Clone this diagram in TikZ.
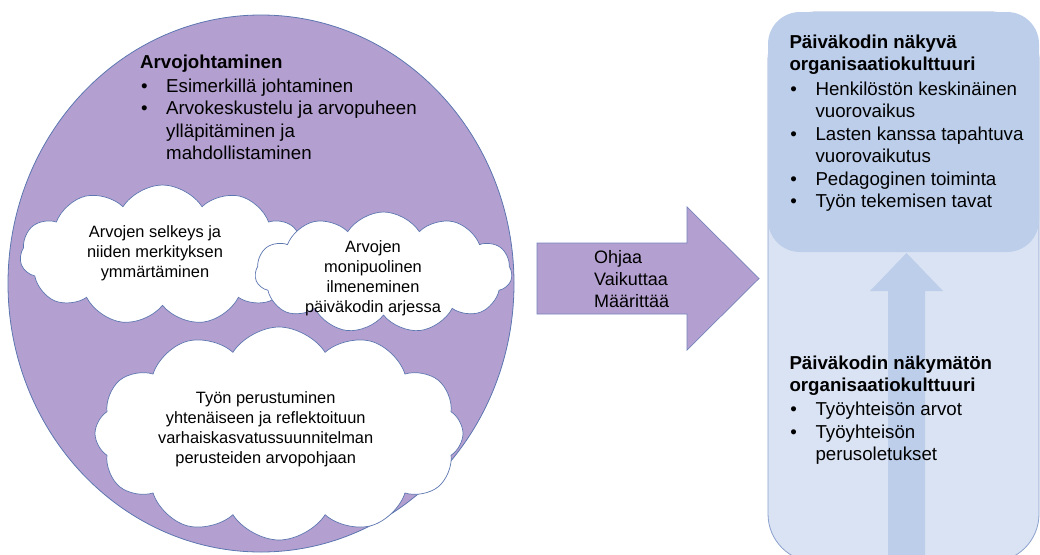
\documentclass[tikz,border=0pt]{standalone}
\usepackage{fontspec}
\setmainfont{Liberation Sans}
\usetikzlibrary{shapes.symbols,shapes.geometric}
\definecolor{purp}{RGB}{180,160,208}
\definecolor{edgeblue}{RGB}{92,118,176}
\definecolor{lightbox}{RGB}{218,227,243}
\definecolor{midbox}{RGB}{189,206,234}
\definecolor{boxedge}{RGB}{138,160,205}
\newcommand{\mybul}{\makebox[26pt][l]{\hspace{0.8pt}\textbullet}}
\newcommand{\myind}{\hspace*{26pt}}
\begin{document}
\begin{tikzpicture}[x=1pt,y=-1pt,
  bigtxt/.style={font=\fontsize{18.7}{22.5}\selectfont, inner sep=0pt, align=left, anchor=north west},
  arrtxt/.style={font=\fontsize{18}{22.2}\selectfont, inner sep=0pt, align=left, anchor=north west},
  cloudtxt/.style={font=\fontsize{16.4}{20}\selectfont, inner sep=0pt, align=center, anchor=north},
  cloudbox/.style={cloud, cloud puffs=11, cloud puff arc=115, cloud ignores aspect, draw=edgeblue, line width=0.7pt, fill=white, inner sep=0pt}]
\clip (0,0) rectangle (1040,554);
% left ellipse
\node[ellipse, draw=edgeblue, line width=0.8pt, fill=purp, minimum width=506, minimum height=537, inner sep=0pt] (circ) at (261,283.5) {};
% clouds
\node[cloudbox, minimum width=285, minimum height=140] (c1) at (162.5,255) {};
\node[cloudbox, minimum width=257, minimum height=121] (c2) at (383.5,272.5) {};
\node[cloudbox, minimum width=368, minimum height=213, cloud puffs=12] (c3) at (279,433.5) {};
% left texts
\node[bigtxt] (lead) at (140,54.6) {\textbf{Arvojohtaminen}\\[1.2pt]
  \mybul Esimerkillä johtaminen\\
  \mybul Arvokeskustelu ja arvopuheen\\
  \myind ylläpitäminen ja\\
  \myind mahdollistaminen};
\node[cloudtxt] (t1) at (155,225.3) {Arvojen selkeys ja\\niiden merkityksen\\ymmärtäminen};
\node[cloudtxt] (t2) at (373,240.3) {Arvojen\\monipuolinen\\ilmeneminen\\päiväkodin arjessa};
\node[cloudtxt] (t3) at (265.7,391) {Työn perustuminen\\yhtenäiseen ja reflektoituun\\varhaiskasvatussuunnitelman\\perusteiden arvopohjaan};
% block arrow
\draw[fill=purp, draw=edgeblue!70!purp, line width=0.7pt]
  (537,243) -- (687,243) -- (687,207) -- (759,278.5) -- (687,350) -- (687,314) -- (537,314) -- cycle;
\node[arrtxt] (verbs) at (594,250.1) {Ohjaa\\Vaikuttaa\\Määrittää};
% right box
\fill[lightbox, rounded corners=48pt] (768,12) rectangle (1039,562);
\fill[midbox] (888,560) -- (888,291) -- (870,291) -- (906.5,253) -- (943,291) -- (925,291) -- (925,560) -- cycle;
\draw[boxedge, line width=0.8pt, rounded corners=48pt] (768,12) rectangle (1039,562);
\fill[midbox, rounded corners=32pt] (768,12) rectangle (1039,252);
\node[bigtxt] (vis) at (789.3,34.6) {\textbf{Päiväkodin näkyvä}\\
  \textbf{organisaatiokulttuuri}\\[1.8pt]
  \mybul Henkilöstön keskinäinen\\
  \myind vuorovaikus\\
  \mybul Lasten kanssa tapahtuva\\
  \myind vuorovaikutus\\
  \mybul Pedagoginen toiminta\\
  \mybul Työn tekemisen tavat};
\node[bigtxt] (invis) at (789.3,355.6) {\textbf{Päiväkodin näkymätön}\\
  \textbf{organisaatiokulttuuri}\\[1.5pt]
  \mybul Työyhteisön arvot\\
  \mybul Työyhteisön\\
  \myind perusoletukset};
\end{tikzpicture}
\end{document}
